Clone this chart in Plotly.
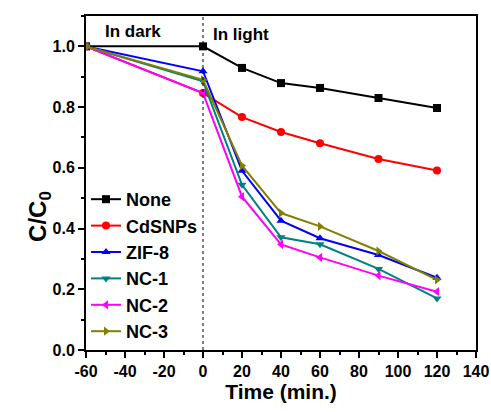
import plotly.graph_objects as go

time = [-60, 0, 20, 40, 60, 90, 120]
none_vals = [1.0, 1.0, 0.929, 0.879, 0.863, 0.830, 0.797]
cds_vals = [1.0, 0.846, 0.767, 0.718, 0.681, 0.629, 0.591]
zif_vals = [1.0, 0.918, 0.590, 0.426, 0.368, 0.313, 0.238]
nc1_vals = [1.0, 0.885, 0.544, 0.371, 0.348, 0.267, 0.170]
nc2_vals = [1.0, 0.846, 0.505, 0.348, 0.305, 0.245, 0.192]
nc3_vals = [1.0, 0.890, 0.607, 0.451, 0.407, 0.326, 0.231]

x_ticks = [-60, -40, -20, 0, 20, 40, 60, 80, 100, 120, 140]
x_ticktext = ["-60", "-40", "-20", "0", "20", "40", "60", "80", "100", "120", "140"]

series = [
    ("None", none_vals, "#000000", "square"),
    ("CdSNPs", cds_vals, "#ff0000", "circle"),
    ("ZIF-8", zif_vals, "#0000ff", "triangle-up"),
    ("NC-1", nc1_vals, "#008080", "triangle-down"),
    ("NC-2", nc2_vals, "#ff00ff", "triangle-left"),
    ("NC-3", nc3_vals, "#808000", "triangle-right"),
]

font_family = "Arial, Liberation Sans, sans-serif"

fig = go.Figure()
for name, vals, color, sym in series:
    fig.add_trace(go.Scatter(
        x=time, y=vals, name="<b>" + name + "</b>", mode="lines+markers",
        line=dict(color=color, width=2),
        marker=dict(symbol=sym, size=8, color=color),
    ))

fig.add_vline(x=0, line=dict(color="black", width=1, dash="dot"))
fig.add_annotation(x=-36, y=1.05, text="<b>In dark</b>", showarrow=False,
                   xref="x", yref="y", font=dict(size=17, color="black", family=font_family))
fig.add_annotation(x=4, y=1.04, text="<b>In light</b>", showarrow=False, xanchor="left",
                   xref="x", yref="y", font=dict(size=17, color="black", family=font_family))
fig.add_annotation(x=-0.164, y=0.40, xref="paper", yref="paper", textangle=-90,
                   text="<b>C/C<sub>0</sub></b>", showarrow=False,
                   font=dict(size=24, color="black", family=font_family))

axis_common = dict(
    showline=True, linecolor="black", linewidth=2, mirror=True,
    ticks="outside", tickcolor="black", tickwidth=2, ticklen=6,
    showgrid=False, zeroline=False, automargin=False,
    tickfont=dict(size=16, color="black", family=font_family),
)
fig.update_xaxes(range=[-60, 140], tickvals=x_ticks, ticktext=["<b>" + t + "</b>" for t in x_ticktext],
                 minor=dict(dtick=10, ticks="outside", ticklen=3, tickcolor="black", tickwidth=1.5),
                 title=dict(text="<b>Time (min.)</b>", font=dict(size=21, color="black", family=font_family), standoff=4),
                 **axis_common)
fig.update_yaxes(range=[0, 1.1], dtick=0.2, tick0=0, tickformat=".1f",
                 minor=dict(dtick=0.1, ticks="outside", ticklen=3, tickcolor="black", tickwidth=1.5),
                 tickprefix="<b>", ticksuffix="</b>", **axis_common)

fig.update_layout(
    width=491, height=412,
    margin=dict(l=86, r=15, t=16, b=62),
    plot_bgcolor="white", paper_bgcolor="white",
    legend=dict(x=0.0, y=0.506, xanchor="left", yanchor="top",
                font=dict(size=18, color="black", family=font_family),
                bgcolor="rgba(0,0,0,0)", itemwidth=30, tracegroupgap=0),
    font=dict(family=font_family, color="black"),
)

fig.write_html("out.html")
